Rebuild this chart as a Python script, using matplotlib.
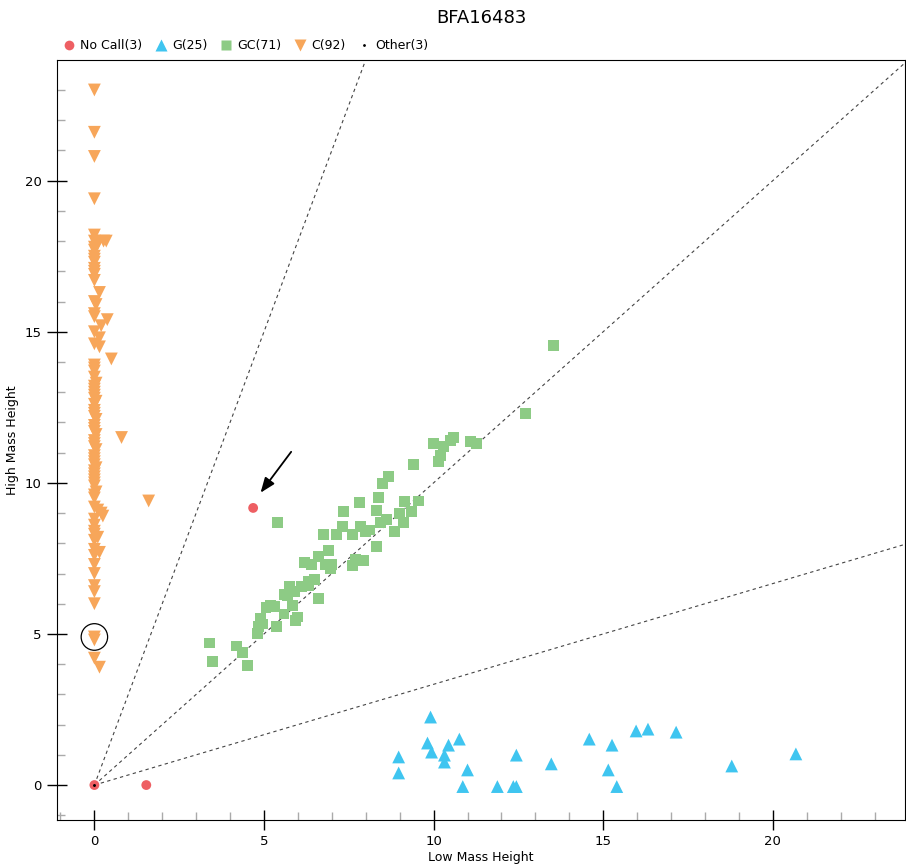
import matplotlib.pyplot as plt
from matplotlib.lines import Line2D
from matplotlib.patches import Ellipse

title = 'BFA16483'

# No Call (red)
nc_x = [0.0, 1.53, 4.68]
nc_y = [0.0, 0.0, 9.17]

# G (blue)
g_x = [9.91, 8.97, 8.97, 9.82, 9.94, 10.44, 10.76, 10.32, 10.32, 11.0, 10.86, 11.88, 12.35,
       12.44, 12.44, 13.47, 14.59, 15.26, 15.15, 15.4, 15.97, 16.32, 17.15, 18.79, 20.68]
g_y = [2.25, 0.93, 0.4, 1.39, 1.09, 1.32, 1.52, 0.99, 0.76, 0.5, -0.05, -0.05, -0.05,
       -0.05, 0.99, 0.7, 1.52, 1.32, 0.5, -0.05, 1.79, 1.85, 1.75, 0.63, 1.03]

# GC (green)
gc_x = [13.53, 12.7, 10.0, 10.6, 10.3, 10.2, 10.15, 11.1, 11.26, 9.4, 8.68, 8.5, 8.38, 8.32,
        7.82, 7.35, 9.15, 9.56, 9.35, 9.12, 8.44, 8.85, 7.85, 8.12, 7.32, 7.15, 7.6, 6.76,
        5.41, 8.32, 6.9, 6.6, 6.2, 6.4, 6.97, 7.6, 7.94, 5.76, 6.3, 6.1, 5.68, 6.62, 5.85,
        5.06, 5.2, 5.59, 6.0, 5.94, 4.85, 4.97, 5.38, 4.82, 3.38, 4.2, 4.38, 3.47, 4.5,
        5.6, 5.9, 6.3, 6.5, 7.0, 7.7, 8.0, 8.6, 9.0, 10.5, 5.3, 4.9, 6.8, 7.6]
gc_y = [14.54, 12.28, 11.3, 11.5, 11.2, 10.9, 10.7, 11.36, 11.3, 10.6, 10.2, 9.97, 9.5, 9.1,
        9.34, 9.04, 9.37, 9.4, 9.04, 8.7, 8.68, 8.38, 8.54, 8.44, 8.54, 8.28, 8.28, 8.3,
        8.7, 7.9, 7.75, 7.55, 7.35, 7.3, 7.18, 7.25, 7.42, 6.56, 6.75, 6.56, 6.26, 6.16, 5.93,
        5.86, 5.93, 5.66, 5.56, 5.43, 5.26, 5.33, 5.26, 5.0, 4.7, 4.6, 4.4, 4.1, 3.97,
        6.3, 6.4, 6.6, 6.8, 7.3, 7.45, 8.4, 8.8, 9.0, 11.4, 5.9, 5.5, 7.3, 8.3]

# C (orange)
c_y = [23.0, 21.6, 20.8, 19.4,
       18.2, 18.0, 18.0, 18.0, 17.9, 17.7, 17.5, 17.3, 17.1, 16.9, 16.7,
       16.3, 16.0, 15.9, 15.6, 15.5, 15.4, 15.2, 15.0, 14.8, 14.6, 14.5, 14.1,
       13.8, 13.7, 13.5, 13.3, 13.2, 13.0, 12.9, 12.7, 12.6, 12.4, 12.2, 12.1, 11.9,
       11.8, 11.6, 11.5, 11.4, 11.2, 11.1, 10.9, 10.8, 10.6, 10.5, 10.3, 10.2, 10.0,
       9.9, 9.7, 9.6, 9.4, 9.2, 9.1, 9.0, 8.9, 8.8, 8.6, 8.3, 8.2, 8.1, 7.8, 7.7, 7.6,
       7.3, 7.0, 6.6, 6.4, 6.0, 4.9, 4.8, 4.2, 3.9,
       17.8, 17.4, 17.0, 13.9, 13.1, 12.8, 12.3, 11.7, 11.3, 10.7, 10.4, 10.1, 9.5, 8.4]
c_x = [0, 0, 0, 0,
       0, 0, 0.27, 0.35, 0.1, 0, 0, 0, 0, 0, 0,
       0.15, 0, 0.05, 0, 0, 0.38, 0.2, 0, 0.15, 0, 0.15, 0.5,
       0, 0, 0, 0.05, 0, 0, 0, 0.05, 0, 0, 0, 0.05, 0,
       0, 0.05, 0.8, 0, 0, 0.05, 0, 0, 0, 0.05, 0, 0, 0,
       0, 0.05, 0, 1.6, 0, 0.1, 0.2, 0.25, 0, 0, 0, 0.1, 0, 0, 0.15, 0,
       0, 0, 0, 0, 0, 0, 0, 0, 0.15,
       0, 0, 0, 0, 0, 0, 0, 0, 0, 0, 0, 0, 0, 0]

# Other
oth_x = [0.0, 0.0, 0.0]
oth_y = [0.0, 0.0, 0.0]

slopes = [3.0, 1.0, 1 / 3]

red = '#EE5F63'
blue = '#3FC5F0'
green = '#8DCB85'
orange = '#F7A65A'

fig = plt.figure(figsize=(9.06, 8.66), dpi=100)
ax = fig.add_axes([0.063, 0.053, 0.936, 0.878])

xlim = (-1.1, 23.9)
ylim = (-1.16, 24.0)

for s in slopes:
    ax.plot([0, 30], [0, 30 * s], color='#444444', lw=0.8, ls=(0, (3, 3)), zorder=1)

ax.scatter(c_x, c_y, marker='v', s=85, color=orange, edgecolors='none', zorder=3)
ax.scatter(gc_x, gc_y, marker='s', s=62, color=green, edgecolors='none', zorder=3)
ax.scatter(g_x, g_y, marker='^', s=85, color=blue, edgecolors='none', zorder=3)
ax.scatter(nc_x, nc_y, marker='o', s=50, color=red, edgecolors='none', zorder=4)
ax.scatter(oth_x, oth_y, marker='.', s=2, color='black', zorder=5)

# circle and arrow annotations
ax.add_patch(Ellipse((0.0, 4.9), 0.78, 0.88, fill=False, ec='black', lw=0.9, zorder=6))
ax.annotate('', xy=(4.85, 9.6), xytext=(5.85, 11.1),
            arrowprops=dict(arrowstyle='-|>,head_length=0.9,head_width=0.35',
                            color='black', lw=1.3))

ax.set_xlim(xlim)
ax.set_ylim(ylim)
ax.set_xticks([0, 5, 10, 15, 20])
ax.set_yticks([0, 5, 10, 15, 20])
ax.set_xticks(range(-1, 24), minor=True)
ax.set_yticks(range(-1, 24), minor=True)
ax.tick_params(which='major', direction='inout', length=14, width=1, labelsize=9.5, pad=4)
ax.tick_params(which='minor', direction='in', length=6, width=1, color='#AAAAAA')
ax.set_xlabel('Low Mass Height', fontsize=9, labelpad=2)
ax.set_ylabel('High Mass Height', fontsize=9, labelpad=4)

fig.text(0.531, 0.979, title, ha='center', va='center', fontsize=13)

handles = [
    Line2D([], [], ls='', marker='o', ms=7, color=red, mec='none'),
    Line2D([], [], ls='', marker='^', ms=8, color=blue, mec='none'),
    Line2D([], [], ls='', marker='s', ms=7, color=green, mec='none'),
    Line2D([], [], ls='', marker='v', ms=8, color=orange, mec='none'),
    Line2D([], [], ls='', marker='.', ms=2, color='black'),
]
labels = ['No Call(3)', 'G(25)', 'GC(71)', 'C(92)', 'Other(3)']
fig.legend(handles, labels, loc='center left', bbox_to_anchor=(0.055, 0.947), ncol=5,
           frameon=False, fontsize=9, handletextpad=0.3, columnspacing=0.9, handlelength=1.2)

plt.savefig('out.png', dpi=100)
